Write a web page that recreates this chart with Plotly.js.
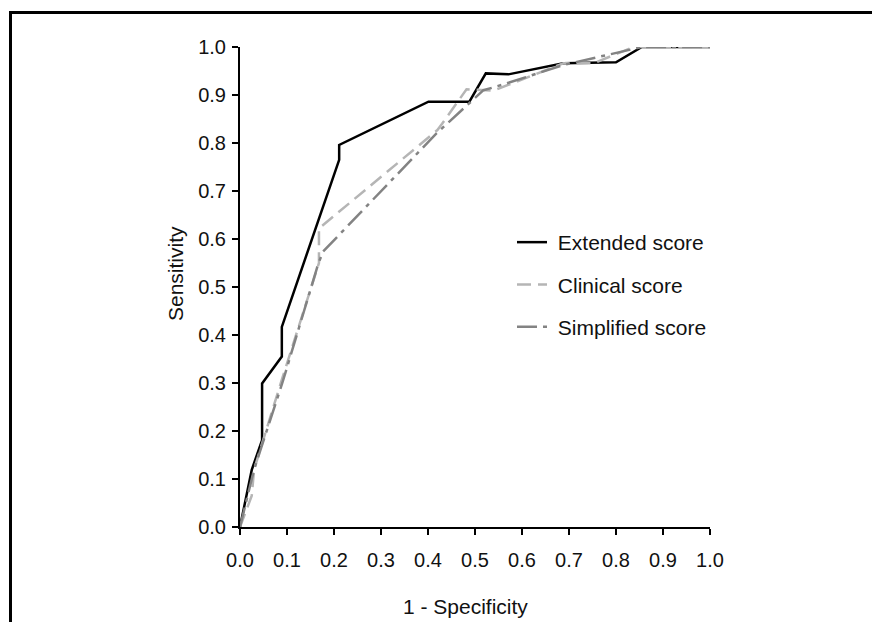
<!DOCTYPE html>
<html>
<head>
<meta charset="utf-8">
<script src="https://cdn.plot.ly/plotly-3.0.1.min.js"></script>
<style>html,body{margin:0;padding:0;background:#fff;}#chart{width:872px;height:622px;}</style>
</head>
<body>
<div id="chart"></div>
<script>
// Extended score (1 - specificity, sensitivity)
const extendedX = [0, 0.025, 0.047, 0.047, 0.089, 0.089, 0.211, 0.211, 0.401, 0.488, 0.523, 0.571, 0.688, 0.800, 0.855, 1.0];
const extendedY = [0, 0.119, 0.181, 0.299, 0.355, 0.417, 0.765, 0.796, 0.886, 0.886, 0.945, 0.943, 0.966, 0.968, 1.0, 1.0];
// Clinical score
const clinicalX = [0, 0.025, 0.030, 0.090, 0.168, 0.168, 0.420, 0.430, 0.482, 0.539, 0.688, 0.752, 0.837, 1.0];
const clinicalY = [0, 0.065, 0.120, 0.310, 0.550, 0.622, 0.827, 0.840, 0.912, 0.909, 0.966, 0.966, 1.0, 1.0];
// Simplified score
const simplifiedX = [0, 0.030, 0.090, 0.167, 0.177, 0.418, 0.518, 0.557, 0.688, 0.800, 0.855, 1.0];
const simplifiedY = [0, 0.120, 0.300, 0.550, 0.574, 0.820, 0.910, 0.921, 0.9625, 0.987, 1.0, 1.0];

const seriesNames = ["Extended score", "Clinical score", "Simplified score"];
const tickVals = [0, 0.1, 0.2, 0.3, 0.4, 0.5, 0.6, 0.7, 0.8, 0.9, 1.0];
const tickText = ["0.0", "0.1", "0.2", "0.3", "0.4", "0.5", "0.6", "0.7", "0.8", "0.9", "1.0"];
const xTitle = "1 - Specificity";
const yTitle = "Sensitivity";

const FONT = "Liberation Sans, Arial, Helvetica, sans-serif";
const NB = "\u00a0";

const traces = [
  {x: extendedX, y: extendedY, type: 'scatter', mode: 'lines', name: NB + seriesNames[0], legendgroup: 'a',
   line: {color: '#000000', width: 2.5}},
  {x: clinicalX, y: clinicalY, type: 'scatter', mode: 'lines', name: NB + seriesNames[1], legendgroup: 'b',
   line: {color: '#b5b5b5', width: 2.5, dash: '14px,7px'}},
  {x: simplifiedX, y: simplifiedY, type: 'scatter', mode: 'lines', name: NB + seriesNames[2], legendgroup: 'c',
   line: {color: '#838383', width: 2.5, dash: '20px,6px,4px,6px'}}
];

const px = v => (v - 240) / 470;
const py = v => (527 - v) / 480;

const layout = {
  width: 872, height: 622,
  margin: {l: 240, r: 162, t: 47, b: 95},
  paper_bgcolor: '#ffffff', plot_bgcolor: '#ffffff',
  font: {family: FONT, size: 21, color: '#000000'},
  showlegend: true,
  legend: {x: px(512), y: py(222), xanchor: 'left', yanchor: 'top', bgcolor: 'rgba(0,0,0,0)',
           font: {family: FONT, size: 21, color: '#111'}, traceorder: 'grouped', tracegroupgap: 12},
  xaxis: {range: [0, 1], tickvals: tickVals, ticktext: tickText, showgrid: false, zeroline: false,
          showline: true, linecolor: '#000', linewidth: 2, ticks: 'outside', ticklen: 6, tickwidth: 2, tickcolor: '#000',
          ticklabelstandoff: 8,
          tickfont: {family: FONT, size: 20, color: '#111'}},
  yaxis: {range: [0, 1], tickvals: tickVals, ticktext: tickText, showgrid: false, zeroline: false,
          showline: true, linecolor: '#000', linewidth: 2, ticks: 'outside', ticklen: 6, tickwidth: 2, tickcolor: '#000',
          ticklabelstandoff: 2,
          tickfont: {family: FONT, size: 20, color: '#111'}},
  annotations: [
    {text: xTitle, xref: 'paper', yref: 'paper', x: px(465), y: py(606), xanchor: 'center', yanchor: 'middle',
     showarrow: false, font: {family: FONT, size: 21, color: '#111'}},
    {text: yTitle, xref: 'paper', yref: 'paper', x: px(175), y: py(274), xanchor: 'center', yanchor: 'middle',
     textangle: -90, showarrow: false, font: {family: FONT, size: 21, color: '#111'}}
  ],
  shapes: [
    {type: 'rect', xref: 'paper', yref: 'paper', x0: px(10.5), x1: px(890), y0: py(12.5), y1: py(640),
     line: {color: '#000', width: 3}, fillcolor: 'rgba(0,0,0,0)'}
  ]
};

Plotly.newPlot('chart', traces, layout, {displayModeBar: false, staticPlot: true});
</script>
</body>
</html>
